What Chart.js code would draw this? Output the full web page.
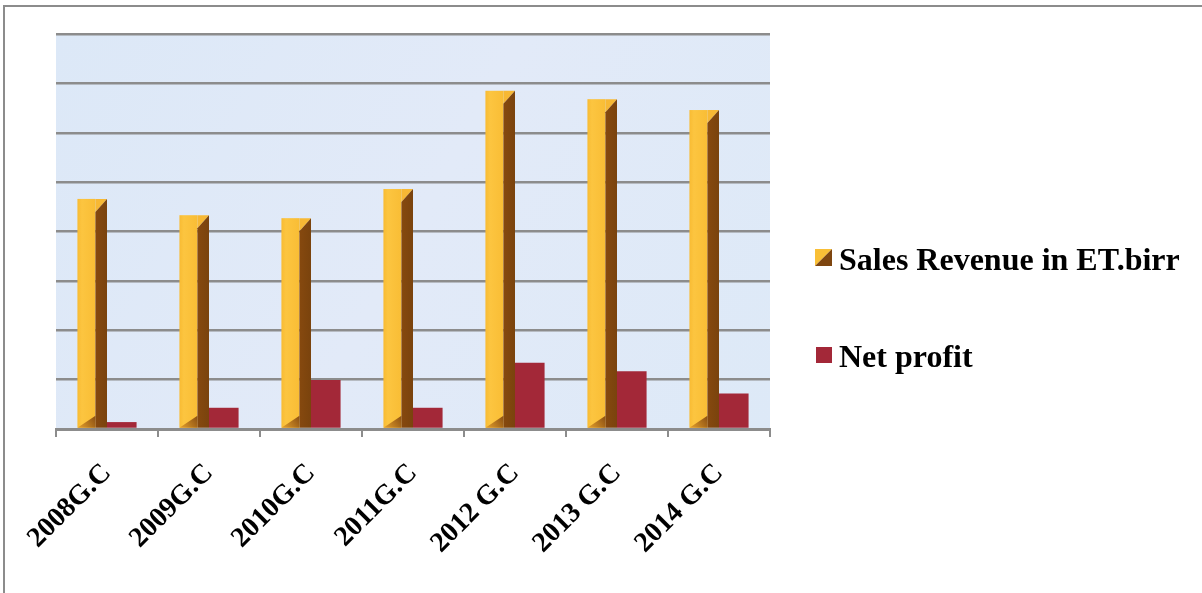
<!DOCTYPE html>
<html>
<head>
<meta charset="utf-8">
<script src="https://cdn.jsdelivr.net/npm/chart.js@4/dist/chart.umd.min.js"></script>
<style>
  html, body { margin: 0; padding: 0; background: #ffffff; }
  #wrap { position: relative; width: 1202px; height: 593px; }
</style>
</head>
<body>
<div id="wrap"><canvas id="c" width="1202" height="593"></canvas></div>
<script>
const categories = ["2008G.C", "2009G.C", "2010G.C", "2011G.C", "2012 G.C", "2013 G.C", "2014 G.C"];
const salesRevenue = [46.6, 43.3, 42.7, 48.6, 68.5, 66.8, 64.6];
const netProfit = [1.4, 4.3, 9.9, 4.3, 13.4, 11.7, 7.2];
const seriesNames = ["Sales Revenue in ET.birr", "Net profit"];
const yMax = 80;
const yStep = 10;

const FONT = '"Liberation Serif", "Times New Roman", serif';

const framePlugin = {
  id: 'frame',
  beforeDraw(chart) {
    const ctx = chart.ctx;
    const a = chart.chartArea;
    ctx.save();
    ctx.fillStyle = '#ffffff';
    ctx.fillRect(0, 0, chart.width, chart.height);
    ctx.strokeStyle = '#8c8c8c';
    ctx.lineWidth = 2;
    ctx.beginPath();
    ctx.moveTo(4, chart.height + 2);
    ctx.lineTo(4, 6);
    ctx.lineTo(chart.width + 2, 6);
    ctx.stroke();
    const g = ctx.createLinearGradient(a.left, a.top, a.right, a.bottom);
    g.addColorStop(0, '#dce8f7');
    g.addColorStop(0.5, '#e2eaf8');
    g.addColorStop(1, '#dde9f7');
    ctx.fillStyle = g;
    ctx.fillRect(a.left, a.top, a.right - a.left, a.bottom - a.top);
    ctx.restore();
  }
};

const bar3dPlugin = {
  id: 'bar3d',
  afterDatasetsDraw(chart) {
    const ctx = chart.ctx;
    const meta = chart.getDatasetMeta(0);
    ctx.save();
    meta.data.forEach((el) => {
      const p = el.getProps(['x', 'y', 'base', 'width'], true);
      const L = p.x - p.width / 2;
      const R = p.x + p.width / 2;
      const T = p.y;
      const B = p.base;
      const f = Math.round(p.width * 0.6);
      const M = L + f;
      const d = 13;
      const fg = ctx.createLinearGradient(L, 0, M, 0);
      fg.addColorStop(0, '#f8bb33');
      fg.addColorStop(0.25, '#fcc540');
      fg.addColorStop(1, '#f9bd35');
      ctx.fillStyle = fg;
      ctx.fillRect(L, T, f, B - T);
      ctx.fillStyle = '#f7b834';
      ctx.beginPath();
      ctx.moveTo(M, T);
      ctx.lineTo(R, T);
      ctx.lineTo(M, T + d);
      ctx.closePath();
      ctx.fill();
      const sg = ctx.createLinearGradient(M, 0, R, 0);
      sg.addColorStop(0, '#86490f');
      sg.addColorStop(1, '#7a430d');
      ctx.fillStyle = sg;
      ctx.beginPath();
      ctx.moveTo(M, T + d);
      ctx.lineTo(R, T);
      ctx.lineTo(R, B);
      ctx.lineTo(M, B);
      ctx.closePath();
      ctx.fill();
      const bg = ctx.createLinearGradient(L, B, M, B - 12);
      bg.addColorStop(0, '#e6a22c');
      bg.addColorStop(1, '#8a4e12');
      ctx.fillStyle = bg;
      ctx.beginPath();
      ctx.moveTo(L, B);
      ctx.lineTo(M, B - 12);
      ctx.lineTo(M, B);
      ctx.closePath();
      ctx.fill();
    });
    ctx.restore();
  }
};

const legendPlugin = {
  id: 'customLegend',
  afterDraw(chart) {
    const ctx = chart.ctx;
    ctx.save();
    ctx.font = 'bold 32px ' + FONT;
    ctx.textBaseline = 'alphabetic';
    ctx.fillStyle = '#000000';
    const items = [
      { y: 249, base: 270, type: 'sales' },
      { y: 347, base: 367, type: 'profit' }
    ];
    chart.data.datasets.forEach((ds, i) => {
      const it = items[i];
      const x0 = 815, s = 17;
      if (it.type === 'sales') {
        ctx.fillStyle = '#f9bf36';
        ctx.beginPath();
        ctx.moveTo(x0, it.y); ctx.lineTo(x0 + s, it.y); ctx.lineTo(x0, it.y + s); ctx.closePath(); ctx.fill();
        ctx.fillStyle = '#7e4610';
        ctx.beginPath();
        ctx.moveTo(x0 + s, it.y); ctx.lineTo(x0 + s, it.y + s); ctx.lineTo(x0, it.y + s); ctx.closePath(); ctx.fill();
      } else {
        ctx.fillStyle = '#a32838';
        ctx.fillRect(x0 + 1, it.y, s - 1, s - 1);
      }
      ctx.fillStyle = '#000000';
      ctx.fillText(ds.label, 839, it.base);
    });
    ctx.restore();
  }
};

new Chart(document.getElementById('c'), {
  type: 'bar',
  data: {
    labels: categories,
    datasets: [
      {
        label: seriesNames[0],
        data: salesRevenue,
        backgroundColor: 'rgba(0,0,0,0)',
        borderWidth: 0,
        categoryPercentage: 0.58,
        barPercentage: 1.0
      },
      {
        label: seriesNames[1],
        data: netProfit,
        backgroundColor: '#a32838',
        borderWidth: 0,
        categoryPercentage: 0.58,
        barPercentage: 1.0
      }
    ]
  },
  options: {
    responsive: false,
    animation: false,
    devicePixelRatio: 1,
    layout: { padding: { left: 56, top: 34, right: 432, bottom: 0 } },
    plugins: {
      legend: { display: false },
      tooltip: { enabled: false },
      title: { display: false }
    },
    scales: {
      x: {
        grid: {
          display: true,
          drawOnChartArea: false,
          drawTicks: true,
          tickLength: 8,
          color: '#8c8c8c',
          lineWidth: 2,
          offset: true
        },
        border: { display: true, color: '#8c8c8c', width: 3 },
        ticks: {
          color: '#000000',
          font: { family: FONT, size: 28, weight: 'bold' },
          minRotation: 45,
          maxRotation: 45,
          padding: 20,
          autoSkip: false
        },
        afterFit(scale) { scale.height = 164; }
      },
      y: {
        min: 0,
        max: yMax,
        ticks: { display: false, stepSize: yStep },
        grid: {
          color: '#8c8c8c',
          lineWidth: 2.5,
          drawTicks: false
        },
        border: { display: false },
        afterFit(scale) { scale.width = 0; }
      }
    }
  },
  plugins: [framePlugin, bar3dPlugin, legendPlugin]
});
</script>
</body>
</html>
